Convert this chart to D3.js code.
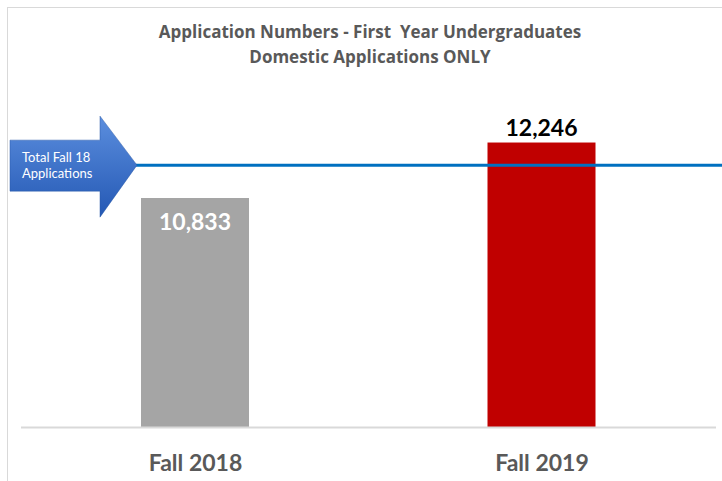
<!DOCTYPE html>
<html>
<head>
<meta charset="utf-8">
<script src="https://cdnjs.cloudflare.com/ajax/libs/d3/7.8.5/d3.min.js"></script>
<style>
  body { margin: 0; background: #fff; }
  svg { display: block; }
</style>
</head>
<body>
<div id="chart"></div>
<script>
var categories = ["Fall 2018", "Fall 2019"];
var applications = [10833, 12246];
var barColors = ["#a5a5a5", "#c00000"];
var labelColors = ["#ffffff", "#000000"];
var fall18Total = 11670;
var titleLines = ["Application Numbers - First  Year Undergraduates", "Domestic Applications ONLY"];
var arrowLines = ["Total Fall 18", "Applications"];

var width = 722, height = 481;
var fontFam = "Lato, 'Open Sans', sans-serif";

var svg = d3.select("#chart").append("svg")
    .attr("width", width)
    .attr("height", height);

// chart frame
svg.append("rect")
    .attr("x", 7.5).attr("y", 7.5)
    .attr("width", 730).attr("height", 490)
    .attr("fill", "none")
    .attr("stroke", "#d9d9d9")
    .attr("stroke-width", 1);

var defs = svg.append("defs");
var grad = defs.append("linearGradient")
    .attr("id", "arrowGrad")
    .attr("x1", 0).attr("y1", 0).attr("x2", 0).attr("y2", 1);
grad.append("stop").attr("offset", "0%").attr("stop-color", "#5b8ede");
grad.append("stop").attr("offset", "100%").attr("stop-color", "#2458b4");

var xScale = d3.scalePoint()
    .domain(categories)
    .range([21.75, 714.75])
    .padding(0.5);

var yScale = d3.scaleLinear()
    .domain([5000, 15000])
    .range([427, 34.4]);

var barWidth = 108;

// title
svg.selectAll(".title")
    .data(titleLines)
    .enter()
    .append("text")
    .attr("x", 370)
    .attr("y", function(d, i) { return 38 + i * 25; })
    .attr("text-anchor", "middle")
    .attr("font-family", "'Open Sans', sans-serif")
    .attr("font-weight", "bold")
    .attr("font-size", 17)
    .attr("fill", "#595959")
    .style("white-space", "pre")
    .text(function(d) { return d; });

// bars
svg.selectAll(".bar")
    .data(applications)
    .enter()
    .append("rect")
    .attr("class", "bar")
    .attr("x", function(d, i) { return xScale(categories[i]) - barWidth / 2; })
    .attr("width", barWidth)
    .attr("y", function(d) { return yScale(d); })
    .attr("height", function(d) { return yScale(5000) - yScale(d); })
    .attr("fill", function(d, i) { return barColors[i]; });

// baseline axis
var xAxis = d3.axisBottom(xScale).tickSize(0).tickPadding(28);
var axisG = svg.append("g")
    .attr("transform", "translate(0," + yScale(5000) + ")")
    .call(xAxis);
axisG.select(".domain")
    .attr("d", "M21,0.5H716")
    .attr("stroke", "#d9d9d9")
    .attr("stroke-width", 2);
axisG.selectAll(".tick text")
    .attr("font-family", fontFam)
    .attr("font-weight", "bold")
    .attr("font-size", 23)
    .attr("fill", "#595959");

// value labels
svg.selectAll(".val")
    .data(applications)
    .enter()
    .append("text")
    .attr("x", function(d, i) { return xScale(categories[i]); })
    .attr("y", function(d, i) { return i === 0 ? yScale(d) + 32 : yScale(d) - 7; })
    .attr("text-anchor", "middle")
    .attr("font-family", fontFam)
    .attr("font-weight", "bold")
    .attr("font-size", 23)
    .attr("fill", function(d, i) { return labelColors[i]; })
    .text(function(d) { return d3.format(",")(d); });

// Fall 18 total line
var lineY = yScale(fall18Total);
svg.append("line")
    .attr("x1", 130).attr("x2", 722)
    .attr("y1", lineY).attr("y2", lineY)
    .attr("stroke", "#0070c0")
    .attr("stroke-width", 3);

// arrow callout
var arrowPath = "M10," + (lineY - 25) + "H100V" + (lineY - 49) + "L137," + lineY +
    "L100," + (lineY + 52) + "V" + (lineY + 26) + "H10Z";
svg.append("path")
    .attr("d", arrowPath)
    .attr("fill", "url(#arrowGrad)")
    .attr("stroke", "#2a5aa8")
    .attr("stroke-width", 0.5);

svg.selectAll(".arrowText")
    .data(arrowLines)
    .enter()
    .append("text")
    .attr("x", 22)
    .attr("y", function(d, i) { return lineY - 3 + i * 16; })
    .attr("font-family", fontFam)
    .attr("font-size", 13)
    .attr("fill", "#ffffff")
    .text(function(d) { return d; });
</script>
</body>
</html>
